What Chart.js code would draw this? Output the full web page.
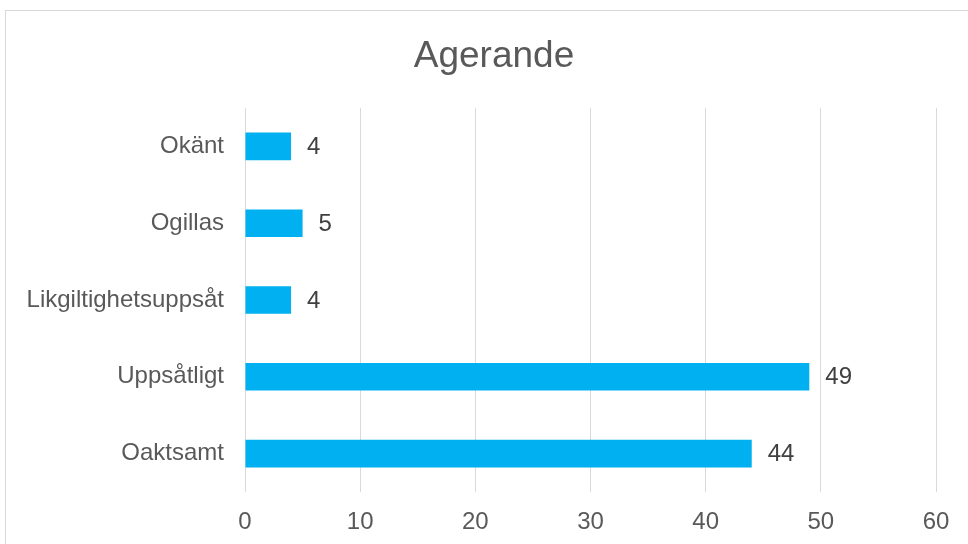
<!DOCTYPE html>
<html>
<head>
<meta charset="utf-8">
<script src="https://cdn.jsdelivr.net/npm/chart.js@4/dist/chart.umd.min.js"></script>
<style>
  html, body { margin: 0; padding: 0; background: #fff; overflow: hidden; }
  #frame { position: absolute; left: 5px; top: 10px; width: 1000px; height: 600px; border: 1px solid #d9d9d9; }
  #wrap { position: absolute; left: 0; top: 0; width: 968px; height: 544px; }
</style>
</head>
<body>
<div id="frame"></div>
<div id="wrap"><canvas id="agerande"></canvas></div>
<script>
  var chartTitle = "Agerande";
  var categories = ["Okänt", "Ogillas", "Likgiltighetsuppsåt", "Uppsåtligt", "Oaktsamt"];
  var antal      = [4, 5, 4, 49, 44];
  var xTicks     = [0, 10, 20, 30, 40, 50, 60];

  var fontFam = "'Liberation Sans', Arial, sans-serif";

  // title centred over the whole frame rather than the canvas
  var frameTitle = {
    id: 'frameTitle',
    afterDraw: function(chart) {
      var ctx = chart.ctx;
      ctx.save();
      ctx.font = "37px " + fontFam;
      ctx.fillStyle = "#595959";
      ctx.textAlign = "center";
      ctx.textBaseline = "alphabetic";
      ctx.fillText(chartTitle, 494, 67);
      ctx.restore();
    }
  };

  // writes the value just right of each bar
  var valueLabels = {
    id: 'valueLabels',
    afterDatasetsDraw: function(chart) {
      var ctx = chart.ctx;
      var meta = chart.getDatasetMeta(0);
      ctx.save();
      ctx.font = "24px " + fontFam;
      ctx.fillStyle = "#404040";
      ctx.textAlign = "left";
      ctx.textBaseline = "middle";
      meta.data.forEach(function(bar, i) {
        ctx.fillText(chart.data.datasets[0].data[i], bar.x + 16, bar.y + 1);
      });
      ctx.restore();
    }
  };

  new Chart(document.getElementById("agerande"), {
    type: 'bar',
    data: {
      labels: categories,
      datasets: [{
        label: chartTitle,
        data: antal,
        backgroundColor: "#00b0f0",
        borderWidth: 0,
        categoryPercentage: 1,
        barPercentage: 0.36
      }]
    },
    options: {
      indexAxis: 'y',
      responsive: true,
      maintainAspectRatio: false,
      animation: false,
      layout: { padding: { left: 0, right: 32, top: 108, bottom: 0 } },
      plugins: {
        legend: { display: false },
        tooltip: { enabled: false },
        title: { display: false }
      },
      scales: {
        x: {
          min: 0,
          max: 60,
          afterBuildTicks: function(scale) {
            scale.ticks = xTicks.map(function(v) { return { value: v }; });
          },
          afterFit: function(scale) { scale.height = 52; },
          grid: { color: "#d9d9d9", lineWidth: 1, drawTicks: false },
          border: { display: false },
          ticks: {
            color: "#595959",
            padding: 16,
            font: { family: fontFam, size: 24 }
          }
        },
        y: {
          afterFit: function(scale) { scale.width = 245; },
          grid: { display: false, drawTicks: false },
          border: { display: false },
          ticks: {
            color: "#595959",
            padding: 21,
            font: { family: fontFam, size: 24 }
          }
        }
      }
    },
    plugins: [valueLabels, frameTitle]
  });
</script>
</body>
</html>
